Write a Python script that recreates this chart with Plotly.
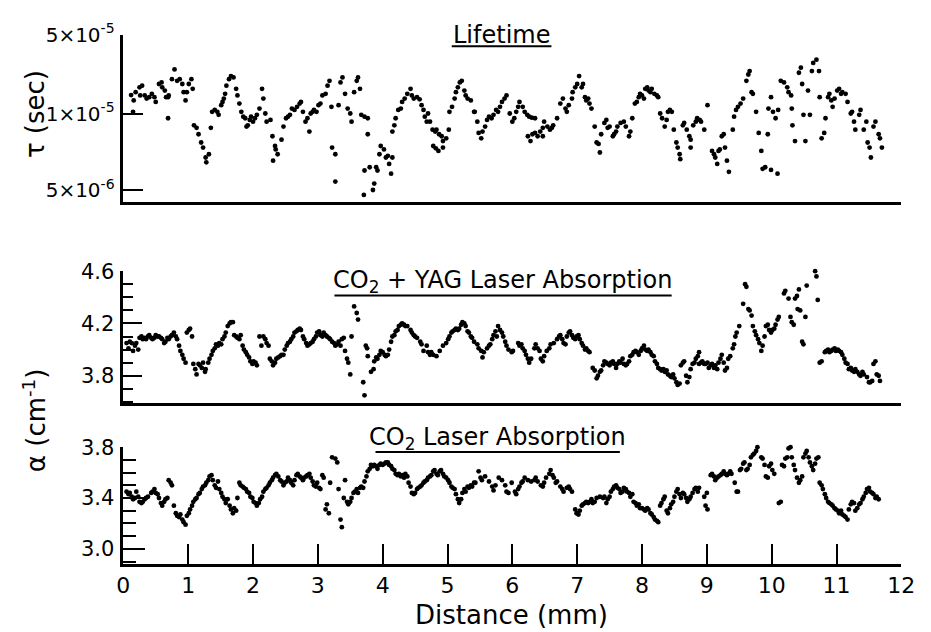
import numpy as np
import plotly.graph_objects as go

# ---------------- data ----------------
# Lifetime panel: distance (mm) and minority-carrier lifetime (microseconds)
tau_x = [0.12, 0.15, 0.16, 0.19, 0.25, 0.29, 0.26, 0.33, 0.36, 0.40, 0.44, 0.48, 0.50, 0.55, 0.59, 0.60,
         0.64, 0.66, 0.69, 0.70, 0.69, 0.75, 0.79, 0.83, 0.87, 0.91, 0.93, 0.96, 0.98, 1.01, 1.05, 1.07,
         1.09, 1.13, 1.16, 1.20, 1.23, 1.27, 1.28, 1.32, 1.35, 1.37, 1.41, 1.45, 1.47, 1.51, 1.53, 1.55,
         1.57, 1.59, 1.63, 1.66, 1.70, 1.74, 1.76, 1.79, 1.82, 1.85, 1.88, 1.90, 1.92, 1.95, 1.97, 2.00,
         2.03, 2.06, 2.10, 2.14, 2.16, 2.19, 2.21, 2.27, 2.30, 2.34, 2.35, 2.38, 2.31, 2.44, 2.47, 2.51,
         2.54, 2.57, 2.60, 2.64, 2.68, 2.72, 2.74, 2.77, 2.81, 2.84, 2.87, 2.89, 2.92, 2.94, 2.98, 3.01,
         3.04, 3.07, 3.12, 3.15, 3.18, 3.21, 3.22, 3.27, 3.27, 3.32, 3.35, 3.38, 3.42, 3.46, 3.50, 3.52,
         3.56, 3.60, 3.62, 3.65, 3.67, 3.72, 3.77, 3.77, 3.72, 3.71, 3.80, 3.85, 3.87, 3.90, 3.92, 3.95,
         3.97, 4.02, 4.05, 4.08, 4.10, 4.13, 4.15, 4.15, 4.18, 4.20, 4.24, 4.28, 4.30, 4.34, 4.38, 4.43,
         4.45, 4.48, 4.53, 4.57, 4.60, 4.63, 4.65, 4.68, 4.70, 4.73, 4.77, 4.81, 4.83, 4.87, 4.91, 4.93,
         4.78, 4.82, 4.86, 4.93, 4.98, 5.02, 5.03, 5.07, 5.11, 5.13, 5.16, 5.19, 5.22, 5.26, 5.28, 5.31,
         5.36, 5.41, 5.42, 5.46, 5.48, 5.52, 5.54, 5.58, 5.61, 5.64, 5.68, 5.71, 5.75, 5.78, 5.81, 5.84,
         5.88, 5.91, 5.96, 6.00, 6.03, 6.06, 6.09, 6.11, 6.16, 6.19, 6.23, 6.26, 6.30, 6.35, 6.24, 6.28,
         6.31, 6.35, 6.39, 6.43, 6.47, 6.49, 6.47, 6.54, 6.58, 6.61, 6.63, 6.69, 6.74, 6.78, 6.82, 6.84,
         6.87, 6.92, 6.93, 6.97, 7.00, 7.03, 7.07, 7.09, 7.12, 7.14, 7.17, 7.19, 7.22, 7.27, 7.30, 7.33,
         7.35, 7.37, 7.42, 7.45, 7.47, 7.50, 7.55, 7.57, 7.60, 7.62, 7.67, 7.72, 7.75, 7.80, 7.82, 7.85,
         7.89, 7.92, 7.95, 7.97, 8.00, 8.03, 8.05, 8.08, 8.10, 8.13, 8.15, 8.19, 8.23, 8.25, 8.28, 8.31,
         8.35, 8.38, 8.40, 8.43, 8.46, 8.49, 8.53, 8.55, 8.58, 8.59, 8.63, 8.65, 8.69, 8.73, 8.75, 8.75,
         8.79, 8.83, 8.85, 8.89, 8.91, 8.96, 9.01, 9.08, 9.11, 9.13, 9.16, 9.18, 9.20, 9.23, 9.26, 9.28,
         9.31, 9.34, 9.40, 9.42, 9.45, 9.48, 9.52, 9.56, 9.61, 9.64, 9.66, 9.69, 9.71, 9.76, 9.80, 9.84,
         9.86, 9.90, 9.94, 9.95, 9.99, 10.02, 10.06, 10.10, 10.09, 9.99, 10.14, 10.19, 10.24, 10.26, 10.30, 10.31,
         10.32, 10.36, 10.42, 10.45, 10.47, 10.49, 10.52, 10.56, 10.59, 10.62, 10.64, 10.69, 10.73, 10.74, 10.77, 10.81,
         10.83, 10.87, 10.89, 10.92, 10.94, 10.97, 11.01, 11.04, 11.07, 11.09, 11.14, 11.17, 11.22, 11.24, 11.27, 11.29,
         11.35, 11.37, 11.42, 11.46, 11.48, 11.51, 11.53, 11.57, 11.60, 11.65, 11.67, 11.70]
tau_us = [14.6, 10.4, 13.1, 15.5, 17.1, 17.7, 14.5, 14.5, 13.6, 14.0, 15.0, 14.0, 12.7, 18.3, 18.9, 17.1,
          16.0, 14.0, 14.0, 14.5, 9.6, 20.2, 24.6, 19.5, 20.2, 18.3, 15.5, 13.1, 15.5, 18.3, 20.2, 16.6,
          9.0, 8.8, 8.3, 7.7, 7.35, 6.72, 6.43, 6.92, 8.8, 10.4, 10.8, 10.4, 9.9, 11.9, 12.7, 13.6,
          15.0, 17.7, 20.2, 21.5, 20.9, 16.6, 14.5, 12.3, 10.4, 9.74, 9.6, 8.9, 9.0, 9.45, 9.74, 9.3,
          9.6, 9.9, 11.1, 16.6, 13.6, 10.05, 9.3, 9.45, 8.15, 7.46, 7.23, 6.92, 6.53, 7.9, 8.9, 9.6,
          9.74, 9.9, 11.1, 10.8, 11.5, 12.3, 12.7, 10.4, 9.3, 9.6, 8.5, 10.05, 10.4, 10.8, 10.4, 11.9,
          12.3, 14.5, 15.0, 17.7, 19.5, 11.5, 7.35, 6.92, 5.4, 11.9, 18.9, 20.9, 15.0, 11.1, 10.05, 9.3,
          15.5, 19.5, 20.9, 16.6, 9.9, 9.74, 9.6, 8.3, 5.97, 4.78, 6.15, 5.0, 5.3, 6.15, 5.97, 6.92,
          7.46, 7.23, 6.72, 6.82, 6.34, 5.8, 6.72, 8.5, 9.0, 9.6, 10.8, 11.1, 12.7, 13.6, 15.0, 16.6,
          14.5, 13.6, 14.0, 13.4, 11.9, 10.8, 9.74, 9.3, 10.05, 9.3, 8.65, 8.5, 8.65, 8.3, 8.15, 7.8,
          7.46, 7.3, 7.13, 7.35, 8.0, 8.65, 10.4, 11.5, 13.6, 15.5, 17.1, 18.9, 19.5, 16.0, 14.5, 13.6,
          13.1, 10.4, 10.4, 9.3, 8.4, 8.0, 8.5, 8.9, 9.45, 9.74, 9.6, 9.9, 10.8, 10.4, 11.5, 12.7,
          13.6, 14.5, 10.05, 9.3, 9.6, 10.4, 11.5, 12.7, 11.5, 10.4, 9.9, 9.74, 9.65, 9.6, 8.15, 7.8,
          8.3, 8.4, 8.15, 8.5, 8.8, 9.3, 8.15, 8.9, 8.65, 8.8, 9.0, 9.6, 12.3, 13.6, 11.1, 10.4,
          11.9, 13.6, 15.5, 17.1, 18.3, 21.5, 17.1, 18.3, 14.0, 13.1, 13.6, 12.3, 11.1, 8.9, 7.7, 7.6,
          7.03, 8.3, 9.2, 9.45, 8.8, 8.9, 8.15, 8.3, 8.5, 8.9, 9.2, 9.3, 8.9, 8.15, 8.5, 9.6,
          12.3, 12.7, 14.0, 15.0, 14.5, 13.6, 16.6, 17.1, 16.0, 15.5, 16.6, 15.0, 14.5, 14.0, 10.05, 9.6,
          8.9, 9.45, 10.4, 10.8, 10.4, 8.65, 7.7, 7.35, 6.92, 6.62, 9.0, 9.2, 8.65, 8.15, 7.9, 7.35,
          9.0, 9.3, 9.6, 9.45, 9.3, 8.65, 11.9, 7.13, 6.92, 6.72, 6.34, 7.13, 7.23, 8.15, 8.3, 7.35,
          6.53, 5.9, 8.65, 9.74, 10.8, 11.5, 12.3, 13.6, 19.5, 22.2, 23.8, 15.5, 15.0, 10.4, 8.4, 7.13,
          6.06, 6.15, 8.3, 11.1, 14.0, 10.4, 9.6, 10.8, 5.8, 6.0, 19.5, 18.9, 17.1, 15.5, 14.5, 11.1,
          9.0, 7.8, 23.0, 25.5, 18.3, 9.9, 7.8, 16.0, 9.9, 23.8, 28.1, 30.0, 23.8, 14.0, 8.0, 8.4,
          9.6, 14.0, 15.0, 13.1, 11.5, 13.6, 16.0, 16.6, 15.0, 15.5, 15.0, 12.7, 10.05, 10.4, 9.3, 8.65,
          9.9, 10.8, 8.65, 9.3, 7.7, 7.35, 6.72, 8.9, 9.3, 8.3, 8.0, 7.35]

# CO2 + YAG laser absorption: distance (mm) and alpha (cm^-1)
yag_x = [0.05, 0.08, 0.10, 0.13, 0.15, 0.18, 0.20, 0.23, 0.25, 0.28, 0.30, 0.33, 0.35, 0.38, 0.40, 0.43,
         0.45, 0.48, 0.50, 0.53, 0.55, 0.58, 0.60, 0.63, 0.65, 0.68, 0.70, 0.73, 0.75, 0.78, 0.81, 0.83,
         0.86, 0.88, 0.91, 0.93, 0.96, 0.98, 1.01, 1.03, 1.06, 1.08, 1.11, 1.13, 1.16, 1.18, 1.21, 1.23,
         1.26, 1.27, 1.31, 1.33, 1.36, 1.38, 1.41, 1.43, 1.46, 1.48, 1.51, 1.53, 1.56, 1.58, 1.61, 1.64,
         1.66, 1.69, 1.71, 1.74, 1.76, 1.79, 1.81, 1.84, 1.86, 1.89, 1.91, 1.94, 1.96, 1.99, 2.01, 2.04,
         2.06, 2.10, 2.13, 2.16, 2.19, 2.21, 2.24, 2.26, 2.29, 2.31, 2.34, 2.36, 2.39, 2.42, 2.44, 2.47,
         2.49, 2.52, 2.54, 2.57, 2.59, 2.62, 2.64, 2.67, 2.69, 2.72, 2.74, 2.77, 2.79, 2.82, 2.84, 2.87,
         2.89, 2.92, 2.94, 2.97, 2.99, 3.02, 3.04, 3.07, 3.09, 3.12, 3.14, 3.17, 3.19, 3.22, 3.25, 3.27,
         3.30, 3.32, 3.35, 3.37, 3.40, 3.42, 3.45, 3.47, 3.50, 3.52, 3.56, 3.60, 3.62, 3.70, 3.72, 3.74,
         3.76, 3.77, 3.82, 3.86, 3.87, 3.90, 3.92, 3.95, 3.97, 4.00, 4.03, 4.05, 4.08, 4.10, 4.13, 4.15,
         4.18, 4.20, 4.23, 4.25, 4.28, 4.30, 4.33, 4.35, 4.38, 4.43, 4.45, 4.48, 4.50, 4.53, 4.58, 4.60,
         4.63, 4.68, 4.70, 4.73, 4.75, 4.78, 4.83, 4.88, 4.93, 4.98, 5.01, 5.03, 5.06, 5.08, 5.11, 5.13,
         5.16, 5.18, 5.21, 5.23, 5.26, 5.28, 5.31, 5.33, 5.36, 5.38, 5.41, 5.46, 5.48, 5.52, 5.54, 5.56,
         5.61, 5.64, 5.66, 5.69, 5.71, 5.74, 5.76, 5.78, 5.81, 5.84, 5.86, 5.89, 5.91, 5.94, 5.99, 6.01,
         6.09, 6.11, 6.14, 6.16, 6.19, 6.21, 6.24, 6.26, 6.29, 6.34, 6.36, 6.39, 6.42, 6.44, 6.47, 6.49,
         6.53, 6.57, 6.59, 6.64, 6.69, 6.72, 6.74, 6.77, 6.79, 6.82, 6.84, 6.87, 6.89, 6.92, 6.94, 6.97,
         6.99, 7.02, 7.04, 7.07, 7.09, 7.12, 7.14, 7.17, 7.19, 7.24, 7.27, 7.30, 7.32, 7.35, 7.37, 7.40,
         7.42, 7.45, 7.47, 7.50, 7.52, 7.55, 7.57, 7.60, 7.62, 7.65, 7.67, 7.70, 7.72, 7.75, 7.77, 7.80,
         7.82, 7.85, 7.87, 7.90, 7.92, 7.95, 7.98, 8.00, 8.03, 8.05, 8.08, 8.10, 8.13, 8.15, 8.18, 8.20,
         8.23, 8.25, 8.28, 8.30, 8.33, 8.35, 8.38, 8.40, 8.43, 8.45, 8.48, 8.50, 8.53, 8.55, 8.58, 8.60,
         8.63, 8.65, 8.68, 8.70, 8.73, 8.75, 8.78, 8.81, 8.83, 8.86, 8.88, 8.88, 8.91, 8.93, 8.96, 8.98,
         9.01, 9.03, 9.06, 9.08, 9.11, 9.13, 9.16, 9.18, 9.21, 9.23, 9.26, 9.28, 9.31, 9.33, 9.36, 9.40,
         9.42, 9.44, 9.46, 9.50, 9.56, 9.59, 9.61, 9.64, 9.66, 9.69, 9.71, 9.74, 9.76, 9.79, 9.81, 9.84,
         9.86, 9.89, 9.91, 9.94, 9.96, 9.99, 10.01, 10.04, 10.06, 10.09, 10.11, 10.19, 10.21, 10.26, 10.29, 10.31,
         10.34, 10.36, 10.39, 10.40, 10.42, 10.44, 10.47, 10.49, 10.52, 10.54, 10.59, 10.64, 10.67, 10.69, 10.71, 10.74,
         10.77, 10.82, 10.84, 10.87, 10.89, 10.92, 10.94, 10.97, 10.99, 11.02, 11.04, 11.07, 11.09, 11.12, 11.14, 11.17,
         11.19, 11.22, 11.24, 11.27, 11.29, 11.32, 11.35, 11.37, 11.40, 11.42, 11.47, 11.50, 11.52, 11.55, 11.57, 11.60,
         11.62, 11.65, 11.67]
yag_alpha = [4.05, 4.01, 4.06, 4.05, 3.99, 4.03, 4.05, 4.00, 4.09, 4.10, 4.08, 4.09, 4.08, 4.10, 4.11, 4.09,
             4.08, 4.09, 4.11, 4.10, 4.10, 4.09, 4.08, 4.05, 4.06, 4.09, 4.08, 4.10, 4.11, 4.13, 4.10, 4.08,
             4.03, 3.99, 3.96, 3.93, 3.90, 4.13, 4.15, 4.16, 4.10, 3.89, 3.85, 3.81, 3.89, 3.88, 3.86, 3.90,
             3.83, 3.85, 3.90, 3.93, 3.96, 3.99, 4.01, 4.04, 4.03, 4.05, 4.04, 4.08, 4.10, 4.13, 4.18, 4.20,
             4.21, 4.21, 4.11, 4.10, 4.09, 4.08, 4.11, 4.03, 4.00, 3.98, 3.96, 3.94, 3.91, 3.89, 3.91, 3.90,
             3.88, 4.10, 4.03, 4.10, 4.08, 4.05, 4.03, 3.93, 3.91, 3.88, 3.90, 3.93, 3.94, 3.95, 3.96, 3.96,
             4.00, 4.03, 4.05, 4.06, 4.08, 4.10, 4.13, 4.14, 4.15, 4.16, 4.15, 4.10, 4.08, 4.05, 4.03, 4.04,
             4.05, 4.06, 4.08, 4.10, 4.13, 4.14, 4.11, 4.10, 4.13, 4.11, 4.10, 4.09, 4.08, 4.06, 4.05, 4.03,
             4.04, 4.06, 4.03, 4.08, 4.09, 3.99, 3.93, 3.90, 3.81, 4.10, 4.33, 4.28, 4.23, 3.75, 3.65, 4.03,
             4.01, 3.95, 3.83, 3.85, 3.91, 3.94, 3.93, 3.96, 3.99, 3.98, 3.96, 3.95, 3.96, 4.00, 4.06, 4.10,
             4.11, 4.14, 4.15, 4.18, 4.19, 4.20, 4.19, 4.18, 4.18, 4.15, 4.13, 4.11, 4.10, 4.09, 4.06, 4.04,
             3.99, 4.03, 3.98, 3.96, 3.98, 3.96, 3.95, 3.99, 4.03, 4.05, 4.08, 4.10, 4.13, 4.14, 4.15, 4.16,
             4.15, 4.16, 4.19, 4.21, 4.20, 4.18, 4.14, 4.13, 4.10, 4.09, 4.06, 4.04, 4.01, 3.99, 3.94, 3.98,
             4.01, 4.03, 4.04, 4.08, 4.11, 4.14, 4.10, 4.18, 4.15, 4.13, 4.10, 4.06, 4.03, 4.00, 3.98, 3.99,
             4.05, 4.03, 4.04, 4.01, 3.99, 3.96, 3.93, 3.90, 3.93, 4.01, 4.04, 4.01, 3.99, 3.93, 3.91, 3.95,
             3.99, 4.01, 4.04, 4.05, 4.08, 4.10, 4.11, 4.08, 4.05, 4.04, 4.10, 4.13, 4.14, 4.11, 4.09, 4.08,
             4.10, 4.11, 4.08, 4.05, 4.03, 4.00, 4.01, 3.99, 3.98, 3.86, 3.84, 3.78, 3.80, 3.83, 3.84, 3.88,
             3.91, 3.90, 3.89, 3.88, 3.90, 3.91, 3.89, 3.86, 3.89, 3.91, 3.90, 3.93, 3.89, 3.88, 3.89, 3.91,
             3.95, 3.96, 3.98, 3.99, 3.98, 3.96, 3.99, 4.01, 4.03, 4.00, 3.99, 4.00, 3.98, 3.96, 3.95, 3.91,
             3.89, 3.86, 3.85, 3.84, 3.85, 3.83, 3.84, 3.81, 3.80, 3.79, 3.81, 3.78, 3.75, 3.73, 3.74, 3.88,
             3.90, 3.91, 3.80, 3.75, 3.79, 3.85, 3.89, 3.90, 3.93, 3.95, 3.98, 3.89, 3.90, 3.91, 3.89, 3.89,
             3.90, 3.86, 3.88, 3.89, 3.86, 3.88, 3.85, 3.90, 3.93, 3.96, 3.90, 3.84, 3.86, 3.93, 3.95, 4.01,
             4.04, 4.10, 4.13, 4.18, 4.35, 4.50, 4.48, 4.31, 4.30, 4.26, 4.18, 4.14, 4.11, 4.08, 4.05, 3.99,
             4.03, 4.10, 4.18, 4.19, 4.15, 4.13, 4.15, 4.16, 4.19, 4.23, 4.25, 4.43, 4.45, 4.39, 4.25, 4.21,
             4.19, 4.39, 4.41, 4.31, 4.46, 4.30, 4.06, 4.04, 4.25, 4.49, 4.66, 4.65, 4.60, 4.56, 4.38, 3.90,
             3.91, 3.98, 3.99, 4.00, 3.98, 3.99, 4.00, 4.01, 3.99, 4.00, 3.99, 3.98, 3.96, 3.93, 3.90, 3.89,
             3.85, 3.86, 3.84, 3.83, 3.85, 3.83, 3.81, 3.80, 3.83, 3.81, 3.79, 3.75, 3.75, 3.76, 3.89, 3.91,
             3.81, 3.80, 3.76]

# CO2 laser absorption: distance (mm) and alpha (cm^-1)
co2_x = [0.05, 0.08, 0.10, 0.13, 0.15, 0.18, 0.20, 0.23, 0.25, 0.28, 0.30, 0.33, 0.35, 0.38, 0.43, 0.45,
         0.48, 0.50, 0.53, 0.55, 0.58, 0.60, 0.63, 0.65, 0.68, 0.70, 0.73, 0.75, 0.78, 0.81, 0.83, 0.86,
         0.88, 0.91, 0.93, 0.96, 0.98, 1.01, 1.03, 1.06, 1.08, 1.11, 1.13, 1.16, 1.18, 1.21, 1.23, 1.26,
         1.28, 1.31, 1.33, 1.36, 1.38, 1.41, 1.43, 1.46, 1.48, 1.51, 1.53, 1.56, 1.58, 1.61, 1.64, 1.66,
         1.69, 1.71, 1.74, 1.76, 1.79, 1.81, 1.84, 1.86, 1.89, 1.91, 1.94, 1.96, 1.99, 2.01, 2.04, 2.06,
         2.09, 2.11, 2.14, 2.16, 2.19, 2.21, 2.24, 2.26, 2.29, 2.31, 2.34, 2.36, 2.39, 2.42, 2.44, 2.47,
         2.49, 2.52, 2.54, 2.57, 2.59, 2.62, 2.64, 2.67, 2.69, 2.72, 2.74, 2.77, 2.79, 2.82, 2.84, 2.87,
         2.89, 2.92, 2.94, 2.97, 2.99, 3.02, 3.04, 3.07, 3.09, 3.12, 3.14, 3.17, 3.19, 3.22, 3.25, 3.27,
         3.30, 3.32, 3.35, 3.37, 3.40, 3.42, 3.45, 3.47, 3.50, 3.52, 3.55, 3.57, 3.60, 3.62, 3.65, 3.67,
         3.70, 3.72, 3.75, 3.77, 3.80, 3.82, 3.85, 3.87, 3.90, 3.92, 3.95, 3.97, 4.00, 4.03, 4.05, 4.08,
         4.10, 4.13, 4.15, 4.18, 4.20, 4.23, 4.25, 4.28, 4.30, 4.33, 4.35, 4.38, 4.40, 4.43, 4.45, 4.48,
         4.50, 4.53, 4.55, 4.58, 4.60, 4.63, 4.65, 4.68, 4.70, 4.73, 4.75, 4.78, 4.80, 4.83, 4.85, 4.88,
         4.90, 4.93, 4.95, 4.98, 5.01, 5.03, 5.06, 5.08, 5.11, 5.13, 5.16, 5.18, 5.21, 5.23, 5.26, 5.28,
         5.31, 5.33, 5.36, 5.38, 5.41, 5.43, 5.48, 5.51, 5.53, 5.58, 5.64, 5.69, 5.71, 5.74, 5.79, 5.84,
         5.89, 5.91, 5.94, 5.99, 6.04, 6.06, 6.09, 6.11, 6.14, 6.16, 6.19, 6.24, 6.29, 6.34, 6.36, 6.39,
         6.44, 6.47, 6.49, 6.52, 6.57, 6.59, 6.62, 6.64, 6.67, 6.69, 6.74, 6.77, 6.79, 6.84, 6.87, 6.89,
         6.92, 6.97, 6.99, 7.02, 7.04, 7.07, 7.09, 7.12, 7.14, 7.17, 7.19, 7.22, 7.24, 7.27, 7.30, 7.35,
         7.40, 7.42, 7.45, 7.47, 7.50, 7.52, 7.55, 7.57, 7.60, 7.62, 7.65, 7.67, 7.70, 7.72, 7.75, 7.77,
         7.80, 7.82, 7.85, 7.87, 7.90, 7.92, 7.95, 7.97, 8.00, 8.03, 8.05, 8.08, 8.10, 8.13, 8.15, 8.18,
         8.20, 8.23, 8.25, 8.28, 8.30, 8.33, 8.35, 8.38, 8.40, 8.43, 8.45, 8.48, 8.50, 8.53, 8.55, 8.58,
         8.60, 8.63, 8.65, 8.68, 8.70, 8.73, 8.75, 8.78, 8.81, 8.83, 8.86, 8.88, 8.96, 8.98, 9.01, 9.00,
         9.06, 9.08, 9.11, 9.13, 9.16, 9.18, 9.21, 9.23, 9.26, 9.28, 9.31, 9.33, 9.36, 9.38, 9.43, 9.46,
         9.48, 9.51, 9.53, 9.56, 9.58, 9.61, 9.63, 9.66, 9.68, 9.71, 9.73, 9.76, 9.78, 9.81, 9.84, 9.86,
         9.89, 9.91, 9.94, 9.96, 9.99, 10.01, 10.04, 10.06, 10.09, 10.11, 10.14, 10.16, 10.19, 10.21, 10.24, 10.26,
         10.29, 10.31, 10.34, 10.36, 10.39, 10.42, 10.44, 10.47, 10.49, 10.52, 10.54, 10.57, 10.59, 10.62, 10.64, 10.67,
         10.69, 10.72, 10.74, 10.77, 10.79, 10.82, 10.84, 10.87, 10.89, 10.92, 10.94, 10.97, 10.99, 11.02, 11.04, 11.07,
         11.09, 11.12, 11.14, 11.17, 11.19, 11.22, 11.24, 11.27, 11.29, 11.32, 11.35, 11.37, 11.40, 11.42, 11.45, 11.47,
         11.50, 11.52, 11.55, 11.57, 11.60, 11.62, 11.65]
co2_alpha = [3.45, 3.43, 3.44, 3.41, 3.39, 3.40, 3.45, 3.41, 3.37, 3.36, 3.37, 3.39, 3.40, 3.41, 3.44, 3.45,
             3.47, 3.44, 3.43, 3.40, 3.36, 3.34, 3.37, 3.39, 3.40, 3.54, 3.52, 3.50, 3.34, 3.28, 3.26, 3.25,
             3.27, 3.23, 3.21, 3.19, 3.26, 3.28, 3.31, 3.34, 3.37, 3.39, 3.40, 3.43, 3.44, 3.47, 3.49, 3.50,
             3.52, 3.54, 3.57, 3.58, 3.54, 3.50, 3.48, 3.53, 3.47, 3.44, 3.41, 3.39, 3.36, 3.39, 3.34, 3.31,
             3.28, 3.32, 3.30, 3.40, 3.52, 3.50, 3.49, 3.48, 3.47, 3.45, 3.44, 3.41, 3.40, 3.37, 3.36, 3.34,
             3.36, 3.39, 3.41, 3.45, 3.47, 3.48, 3.50, 3.52, 3.54, 3.56, 3.58, 3.59, 3.57, 3.54, 3.53, 3.50,
             3.52, 3.53, 3.56, 3.54, 3.52, 3.50, 3.54, 3.58, 3.59, 3.57, 3.56, 3.54, 3.56, 3.57, 3.58, 3.59,
             3.56, 3.53, 3.50, 3.49, 3.52, 3.48, 3.47, 3.58, 3.56, 3.31, 3.35, 3.28, 3.52, 3.72, 3.81, 3.71,
             3.68, 3.47, 3.23, 3.17, 3.40, 3.54, 3.37, 3.35, 3.37, 3.40, 3.44, 3.45, 3.47, 3.44, 3.48, 3.49,
             3.48, 3.53, 3.57, 3.61, 3.63, 3.66, 3.65, 3.66, 3.65, 3.63, 3.66, 3.67, 3.66, 3.67, 3.68, 3.68,
             3.66, 3.65, 3.63, 3.62, 3.59, 3.58, 3.59, 3.57, 3.58, 3.56, 3.59, 3.57, 3.52, 3.49, 3.44, 3.43,
             3.44, 3.47, 3.48, 3.49, 3.50, 3.52, 3.53, 3.54, 3.56, 3.57, 3.58, 3.61, 3.62, 3.59, 3.58, 3.61,
             3.62, 3.59, 3.57, 3.56, 3.54, 3.52, 3.49, 3.48, 3.47, 3.43, 3.39, 3.36, 3.39, 3.44, 3.47, 3.45,
             3.49, 3.48, 3.50, 3.49, 3.52, 3.52, 3.61, 3.56, 3.54, 3.57, 3.53, 3.49, 3.46, 3.50, 3.56, 3.54,
             3.50, 3.45, 3.44, 3.52, 3.45, 3.43, 3.47, 3.49, 3.52, 3.53, 3.56, 3.54, 3.53, 3.54, 3.56, 3.53,
             3.50, 3.49, 3.52, 3.56, 3.59, 3.62, 3.58, 3.56, 3.52, 3.53, 3.49, 3.47, 3.45, 3.48, 3.49, 3.47,
             3.45, 3.31, 3.28, 3.27, 3.30, 3.34, 3.35, 3.36, 3.37, 3.36, 3.37, 3.39, 3.36, 3.37, 3.40, 3.41,
             3.40, 3.41, 3.36, 3.39, 3.41, 3.45, 3.47, 3.49, 3.50, 3.48, 3.47, 3.44, 3.45, 3.48, 3.47, 3.45,
             3.44, 3.41, 3.43, 3.37, 3.36, 3.34, 3.35, 3.32, 3.32, 3.31, 3.30, 3.32, 3.31, 3.28, 3.27, 3.25,
             3.23, 3.22, 3.21, 3.34, 3.36, 3.39, 3.41, 3.30, 3.28, 3.32, 3.35, 3.37, 3.41, 3.45, 3.47, 3.43,
             3.40, 3.44, 3.43, 3.40, 3.37, 3.39, 3.41, 3.44, 3.47, 3.48, 3.45, 3.48, 3.41, 3.34, 3.31, 3.44,
             3.58, 3.59, 3.57, 3.54, 3.56, 3.57, 3.58, 3.59, 3.61, 3.59, 3.58, 3.59, 3.61, 3.59, 3.52, 3.45,
             3.45, 3.62, 3.63, 3.67, 3.68, 3.62, 3.63, 3.66, 3.72, 3.74, 3.75, 3.77, 3.80, 3.81, 3.72, 3.71,
             3.66, 3.57, 3.56, 3.65, 3.67, 3.62, 3.59, 3.88, 3.88, 3.36, 3.37, 3.66, 3.65, 3.71, 3.72, 3.79,
             3.80, 3.72, 3.66, 3.62, 3.56, 3.52, 3.54, 3.57, 3.72, 3.75, 3.77, 3.72, 3.68, 3.65, 3.62, 3.67,
             3.71, 3.72, 3.52, 3.50, 3.47, 3.43, 3.40, 3.37, 3.36, 3.35, 3.34, 3.32, 3.31, 3.30, 3.28, 3.30,
             3.27, 3.26, 3.25, 3.23, 3.31, 3.35, 3.37, 3.36, 3.30, 3.32, 3.35, 3.36, 3.39, 3.41, 3.44, 3.47,
             3.48, 3.45, 3.44, 3.43, 3.40, 3.41, 3.39]

x_ticks = list(range(0, 13))

# Lifetime axis: the labelled values 5e-6, 1e-5 and 5e-5 s sit at these heights
tau_tick_us = [5.0, 10.0, 50.0]
tau_tick_text = ["5×10<sup>-6</sup>", "1×10<sup>-5</sup>", "5×10<sup>-5</sup>"]
tau_tick_pos = [0.0, 78.0, 159.0]


def tau_scale(t):
    """Piecewise-logarithmic lifetime scale between the labelled values."""
    t = np.asarray(t, dtype=float)
    lo = tau_tick_pos[0] + (tau_tick_pos[1] - tau_tick_pos[0]) * np.log(t / tau_tick_us[0]) / np.log(tau_tick_us[1] / tau_tick_us[0])
    hi = tau_tick_pos[1] + (tau_tick_pos[2] - tau_tick_pos[1]) * np.log(t / tau_tick_us[1]) / np.log(tau_tick_us[2] / tau_tick_us[1])
    return np.where(t <= tau_tick_us[1], lo, hi)


# ---------------- figure ----------------
W, H = 931, 632
FONT = "DejaVu Sans, sans-serif"


def px_x(p):
    return p / W


def px_y(p):
    return 1 - p / H


marker = dict(color="black", size=4.8, line=dict(width=0))

fig = go.Figure()
fig.add_trace(go.Scatter(x=co2_x, y=co2_alpha, mode="markers", marker=marker,
                         xaxis="x", yaxis="y", cliponaxis=False, showlegend=False))
fig.add_trace(go.Scatter(x=yag_x, y=yag_alpha, mode="markers", marker=marker,
                         xaxis="x2", yaxis="y2", cliponaxis=False, showlegend=False))
fig.add_trace(go.Scatter(x=tau_x, y=tau_scale(tau_us), mode="markers", marker=marker,
                         xaxis="x3", yaxis="y3", cliponaxis=False, showlegend=False))

x_dom = [px_x(119), px_x(915)]
common_x = dict(domain=x_dom, range=[0, 12], showgrid=False, zeroline=False,
                showline=True, linecolor="black", linewidth=3)
common_y = dict(showgrid=False, zeroline=False, showline=True, linecolor="black",
                linewidth=2.5, ticks="inside", tickcolor="black", tickwidth=2,
                tickfont=dict(family=FONT, size=21, color="black"), ticklabelstandoff=2)

fig.update_layout(
    width=W, height=H,
    margin=dict(l=0, r=0, t=0, b=0),
    paper_bgcolor="white", plot_bgcolor="white",
    font=dict(family=FONT, color="black"),
    xaxis=dict(**common_x, anchor="y", ticks="inside", ticklen=20, tickwidth=2,
               tickcolor="black", tickmode="array", tickvals=x_ticks,
               ticktext=[str(v) for v in x_ticks], ticklabelstandoff=0,
               tickfont=dict(family=FONT, size=22, color="black")),
    xaxis2=dict(**common_x, anchor="y2", matches="x", showticklabels=False, ticks=""),
    xaxis3=dict(**common_x, anchor="y3", matches="x", showticklabels=False, ticks=""),
    yaxis=dict(**common_y, anchor="x", domain=[px_y(562), px_y(443)], range=[2.884, 3.8],
               tick0=3.0, dtick=0.4, tickformat=".1f", ticklen=22,
               minor=dict(tick0=3.0, dtick=0.1, ticks="inside", ticklen=13,
                          tickcolor="black", tickwidth=2, showgrid=False)),
    yaxis2=dict(**common_y, anchor="x2", domain=[px_y(398), px_y(263)], range=[3.59, 4.6],
                tick0=3.8, dtick=0.4, tickformat=".1f", ticklen=19,
                minor=dict(tick0=3.8, dtick=0.1, ticks="inside", ticklen=10,
                           tickcolor="black", tickwidth=2, showgrid=False)),
    yaxis3=dict(**common_y, anchor="x3", domain=[px_y(192), px_y(21)], range=[-12, 159],
                tickmode="array", tickvals=tau_tick_pos, ticktext=tau_tick_text, ticklen=20),
)
fig.layout.yaxis3.tickfont = dict(family=FONT, size=20, color="black")


def label(text, x, y, size, angle=0):
    fig.add_annotation(text=text, x=px_x(x), y=px_y(y), xref="paper", yref="paper",
                       showarrow=False, textangle=angle, xanchor="center", yanchor="middle",
                       font=dict(family=FONT, size=size, color="black"))


# panel titles
label("Lifetime", 506, 21, 24)
label("CO<sub>2</sub> + YAG Laser Absorption", 507, 274, 24)
label("CO<sub>2</sub> Laser Absorption", 502, 434, 24)

# axis titles
label("τ (sec)", 28, 102, 26, -90)
label("α (cm<sup>-1</sup>)", 28, 416, 26, -90)
label("Distance (mm)", 516, 615, 26)

# underlines beneath the panel titles
for x0, x1, yy in [(455, 557, 33), (335, 680, 288), (377, 627, 448)]:
    fig.add_shape(type="line", xref="paper", yref="paper",
                  x0=px_x(x0), x1=px_x(x1), y0=px_y(yy), y1=px_y(yy),
                  line=dict(color="black", width=2))

fig.write_html("out.html")
